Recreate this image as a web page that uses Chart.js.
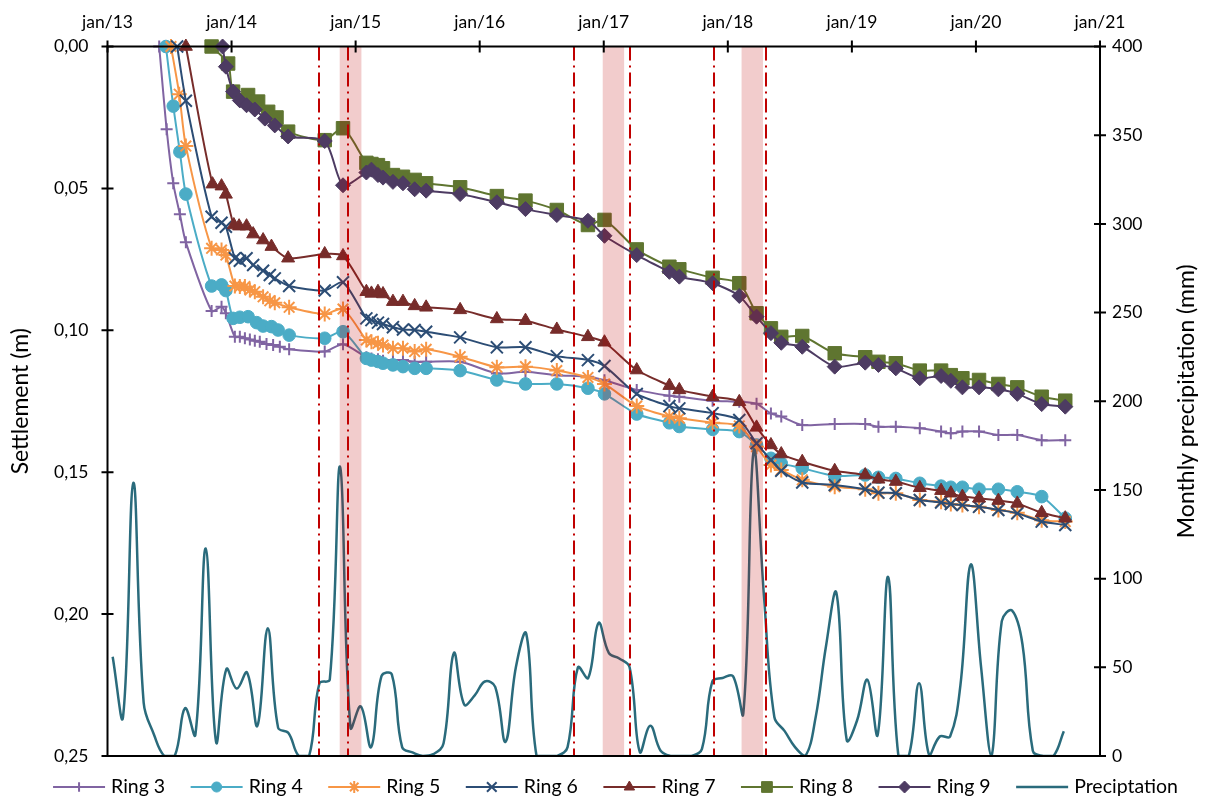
<!DOCTYPE html>
<html><head><meta charset="utf-8">
<script src="https://cdn.jsdelivr.net/npm/chart.js@4.4.1/dist/chart.umd.min.js"></script>
<style>html,body{margin:0;padding:0;background:#fff;}canvas{display:block;}</style>
</head><body>
<canvas id="c" width="1209" height="798"></canvas>
<script>
// ---- DATA (x = months since Jan 2013, y = settlement in m) ----
const yearTickLabels = ['jan/13','jan/14','jan/15','jan/16','jan/17','jan/18','jan/19','jan/20','jan/21'];
const laterSurveyMonths = [21.01,22.78,25.04,25.53,26.16,26.65,27.61,28.58,29.71,30.82,34.11,37.66,40.43,43.46,46.47,48.07,51.19,54.35,55.31,58.53,61.11,62.78,64.17,65.17,67.20,70.34,73.29,74.57,76.25,78.57,80.63,81.57,82.69,84.30,86.17,88.00,90.36,92.64];

const ring3Early = [5.00,5.72,6.36,7.00,7.58,10.07,11.03,11.45,12.32,12.80,13.29,13.77,14.25,14.73,15.38,16.02,16.67,17.57];
const ring3Settlement = [0,0.0292,0.0482,0.0591,0.0690,0.0932,0.0917,0.0940,0.1023,0.1023,0.1028,0.1032,0.1037,0.1040,0.1048,0.1052,0.1058,0.1067,
  0.1075,0.1049,0.1095,0.1099,0.1102,0.1107,0.1105,0.1105,0.1111,0.1111,0.1111,0.1152,0.1146,0.1158,0.1164,0.1176,0.1210,0.1231,0.1234,0.1248,0.1252,0.1259,0.1293,0.1304,0.1334,0.1330,0.1330,0.1340,0.1340,0.1345,0.1357,0.1363,0.1357,0.1357,0.1369,0.1369,0.1387,0.1387];

const ring4Early = [5.65,6.36,7.00,7.58,10.07,11.03,11.45,12.15,12.80,13.60,14.42,15.05,15.86,16.50,17.57];
const ring4Settlement = [0,0.0210,0.0371,0.0520,0.0844,0.0840,0.0860,0.0958,0.0954,0.0952,0.0973,0.0985,0.0987,0.0999,0.1017,
  0.1028,0.1005,0.1099,0.1105,0.1110,0.1116,0.1122,0.1128,0.1134,0.1134,0.1142,0.1175,0.1189,0.1189,0.1204,0.1224,0.1295,0.1326,0.1339,0.1349,0.1357,0.1404,0.1451,0.1469,0.1486,0.1513,0.1510,0.1518,0.1522,0.1539,0.1549,0.1553,0.1553,0.1560,0.1560,0.1569,0.1586,0.1662];

const ring5Early = [6.14,6.94,7.58,10.07,11.03,11.45,12.32,12.80,13.29,13.77,14.25,15.05,15.70,16.18,17.57];
const ring5Settlement = [0,0.0168,0.0351,0.0711,0.0717,0.0735,0.0844,0.0846,0.0846,0.0858,0.0864,0.0882,0.0896,0.0903,0.0919,
  0.0943,0.0925,0.1034,0.1040,0.1046,0.1052,0.1063,0.1063,0.1075,0.1067,0.1093,0.1130,0.1128,0.1142,0.1166,0.1189,0.1267,0.1304,0.1310,0.1326,0.1337,0.1410,0.1475,0.1492,0.1527,0.1551,0.1560,0.1574,0.1574,0.1598,0.1604,0.1612,0.1616,0.1622,0.1633,0.1643,0.1669,0.1674];

const ring6Early = [6.74,7.58,10.07,11.03,11.45,12.32,12.80,13.45,14.09,15.05,15.70,16.18,17.57];
const ring6Settlement = [0,0.0191,0.0600,0.0621,0.0635,0.0746,0.0755,0.0746,0.0770,0.0790,0.0805,0.0817,0.0844,
  0.0860,0.0831,0.0958,0.0964,0.0973,0.0978,0.0989,0.0997,0.0999,0.1005,0.1025,0.1060,0.1060,0.1091,0.1105,0.1126,0.1224,0.1267,0.1275,0.1292,0.1316,0.1398,0.1457,0.1495,0.1536,0.1545,0.1560,0.1572,0.1574,0.1598,0.1607,0.1612,0.1616,0.1622,0.1633,0.1645,0.1674,0.1686];

const ring7Early = [7.58,10.16,11.03,11.45,12.22,12.73,13.45,14.09,15.05,15.86,17.47];
const ring7Settlement = [0,0.0485,0.0492,0.0521,0.0629,0.0633,0.0633,0.0661,0.0682,0.0705,0.0746,
  0.0731,0.0738,0.0864,0.0870,0.0864,0.0872,0.0899,0.0899,0.0914,0.0919,0.0928,0.0960,0.0966,0.0997,0.1023,0.1042,0.1140,0.1195,0.1210,0.1234,0.1252,0.1342,0.1404,0.1436,0.1463,0.1495,0.1510,0.1525,0.1533,0.1555,0.1565,0.1574,0.1586,0.1592,0.1600,0.1610,0.1643,0.1662];

const ring8Early = [10.07,11.67,12.15,13.60,14.57,15.54,16.35,17.47];
const ring8Settlement = [0,0.0060,0.0159,0.0171,0.0194,0.0230,0.0250,0.0300,
  0.0330,0.0288,0.0410,0.0414,0.0418,0.0429,0.0453,0.0459,0.0470,0.0482,0.0496,0.0527,0.0543,0.0576,0.0629,0.0611,0.0715,0.0776,0.0785,0.0815,0.0834,0.0940,0.0993,0.1023,0.1020,0.1081,0.1095,0.1111,0.1116,0.1142,0.1142,0.1158,0.1169,0.1175,0.1189,0.1201,0.1234,0.1248];

const ring9Early = [11.13,11.45,12.15,12.80,13.45,14.25,15.22,16.18,17.47];
const ring9Settlement = [0,0.0071,0.0159,0.0190,0.0207,0.0222,0.0254,0.0278,0.0317,
  0.0333,0.0489,0.0444,0.0434,0.0453,0.0462,0.0477,0.0482,0.0503,0.0508,0.0520,0.0549,0.0573,0.0594,0.0614,0.0667,0.0735,0.0794,0.0811,0.0834,0.0879,0.0952,0.1010,0.1044,0.1058,0.1128,0.1114,0.1122,0.1134,0.1169,0.1161,0.1178,0.1201,0.1201,0.1208,0.1224,0.1260,0.1269];

// monthly precipitation (mm), one value per month from Jan 2013
const precipitation = [56,22,154,30,12,0,0,27,12,117,8,49,
  38,47,17,72,16,13,0,0,41,43,163,16,
  28,5,45,46,5,2,0,1,7,58,29,34,
  42,39,8,50,69,0,0,0,5,50,44,75,
  58,55,50,2,17,3,0,0,0,4,42,44,
  45,24,172,90,22,14,5,0,22,62,92,9,
  20,43,12,101,0,0,41,0,11,11,40,108,
  50,0,76,82,63,3,0,0,14];

// event markers (months since Jan 2013)
const eventLines = [20.48,23.24,45.12,50.53,58.65,63.72];
const eventBandStart = [22.46,47.90,61.33];
const eventBandEnd = [24.56,49.97,63.40];

// ---- CHART ----
const FONT = 'Lato, "Open Sans", "DejaVu Sans", sans-serif';
function pts(xs, ys){ return xs.map((x,i)=>({x:x, y:ys[i]})); }
function ring(label, early, ys, color, style, r, bw, order){
  return {label, data: pts(early.concat(laterSurveyMonths), ys), yAxisID:'y',
    borderColor: color, backgroundColor: color, borderWidth: 2,
    pointStyle: style, pointRadius: r, pointHoverRadius: r, pointBorderWidth: bw,
    pointBackgroundColor: color, pointBorderColor: color,
    tension: 0.25, clip: false, order};
}
const datasets = [
  ring('Ring 3', ring3Early, ring3Settlement, '#8064A2', 'cross', 6, 2, 10),
  ring('Ring 4', ring4Early, ring4Settlement, '#4BACC6', 'circle', 6.3, 1, 9),
  ring('Ring 5', ring5Early, ring5Settlement, '#F79646', 'star', 7.5, 2, 8),
  ring('Ring 6', ring6Early, ring6Settlement, '#2C4D75', 'crossRot', 8.5, 2, 7),
  ring('Ring 7', ring7Early, ring7Settlement, '#772C2A', 'triangle', 7.5, 1, 6),
  ring('Ring 8', ring8Early, ring8Settlement, '#5F7530', 'rect', 9.5, 1, 5),
  ring('Ring 9', ring9Early, ring9Settlement, '#4D3B62', 'rectRot', 7.5, 1, 4),
  {label:'Preciptation', data: precipitation.map((v,i)=>({x:i+0.5, y:v})), yAxisID:'y2',
    borderColor:'#2A6B7C', backgroundColor:'#2A6B7C', borderWidth:2.5, pointRadius:0, pointHoverRadius:0,
    tension:0.4, order: 3}
];

function drawMarker(ctx, ds, x, y, r){
  ctx.save();
  ctx.fillStyle = ds.backgroundColor; ctx.strokeStyle = ds.borderColor;
  ctx.lineWidth = ds.pointBorderWidth || 1;
  if (Chart.helpers && Chart.helpers.drawPoint) {
    Chart.helpers.drawPoint(ctx, {pointStyle: ds.pointStyle, radius: r, borderWidth: ds.pointBorderWidth, rotation: 0}, x, y);
  }
  ctx.restore();
}

const decor = {
  id: 'decor',
  afterDatasetsDraw(chart){
    const {ctx, chartArea:a, scales} = chart;
    const x = scales.x, y = scales.y, y2 = scales.y2;
    ctx.save();
    ctx.fillStyle = 'rgba(192,0,0,0.2)';
    eventBandStart.forEach((s,i)=>{
      const x0 = x.getPixelForValue(s), x1 = x.getPixelForValue(eventBandEnd[i]);
      ctx.fillRect(x0, a.top, x1-x0, a.bottom-a.top);
    });
    ctx.strokeStyle = '#C00000'; ctx.lineWidth = 2; ctx.setLineDash([14,5,2,5]);
    eventLines.forEach(m=>{
      const p = Math.round(x.getPixelForValue(m));
      ctx.beginPath(); ctx.moveTo(p, a.top); ctx.lineTo(p, a.bottom); ctx.stroke();
    });
    ctx.setLineDash([]);
    ctx.strokeStyle = '#000'; ctx.lineWidth = 2;
    ctx.strokeRect(a.left, a.top, a.right-a.left, a.bottom-a.top);
    ctx.beginPath();
    x.ticks.forEach(t=>{ const p = x.getPixelForValue(t.value); ctx.moveTo(p, a.top-6); ctx.lineTo(p, a.top+6); });
    y.ticks.forEach(t=>{ const p = y.getPixelForValue(t.value); ctx.moveTo(a.left-6, p); ctx.lineTo(a.left+6, p); });
    y2.ticks.forEach(t=>{ const p = y2.getPixelForValue(t.value); ctx.moveTo(a.right-6, p); ctx.lineTo(a.right+6, p); });
    ctx.stroke();
    ctx.restore();
  },
  afterDraw(chart){
    const {ctx, chartArea:a} = chart;
    const cy = (a.top + a.bottom)/2;
    ctx.save();
    ctx.fillStyle = '#000';
    ctx.font = '23px ' + FONT;
    ctx.textAlign = 'center'; ctx.textBaseline = 'middle';
    ctx.save(); ctx.translate(21, cy); ctx.rotate(-Math.PI/2); ctx.fillText('Settlement (m)', 0, 0); ctx.restore();
    ctx.save(); ctx.translate(1187, cy); ctx.rotate(-Math.PI/2); ctx.fillText('Monthly precipitation (mm)', 0, 0); ctx.restore();
    // legend
    ctx.font = '19.5px ' + FONT;
    const dss = chart.data.datasets;
    const lineLen = 52, gapText = 6, gapItem = 25.5;
    const widths = dss.map(d => lineLen + gapText + ctx.measureText(d.label).width);
    const total = widths.reduce((s,w)=>s+w,0) + gapItem*(dss.length-1);
    let lx = 615.5 - total/2; const ly = 787;
    dss.forEach((d,i)=>{
      ctx.strokeStyle = d.borderColor; ctx.lineWidth = d.borderWidth;
      ctx.beginPath(); ctx.moveTo(lx, ly); ctx.lineTo(lx+lineLen, ly); ctx.stroke();
      if (d.pointRadius > 0) drawMarker(ctx, d, lx+lineLen/2, ly, d.pointRadius*0.8);
      ctx.fillStyle = '#000'; ctx.textAlign = 'left'; ctx.textBaseline = 'middle';
      ctx.fillText(d.label, lx+lineLen+gapText, ly);
      lx += widths[i] + gapItem;
    });
    ctx.restore();
  }
};

const tickFont = {family: FONT, size: 17.5};
new Chart(document.getElementById('c'), {
  type: 'line',
  data: {datasets},
  plugins: [decor],
  options: {
    responsive: false, animation: false, devicePixelRatio: 1,
    layout: {padding: {top:0, left:0, right:0, bottom:42}},
    plugins: {legend: {display:false}, tooltip: {enabled:false}},
    scales: {
      x: {type:'linear', position:'top', min:0, max:96,
        afterBuildTicks: s => { s.ticks = yearTickLabels.map((_,i)=>({value:i*12})); },
        ticks: {callback: v => yearTickLabels[Math.round(v/12)], font: tickFont, color:'#000', padding: 14, maxRotation:0, autoSkip:false},
        grid: {display:false, drawTicks:false}, border: {display:false},
        afterFit: s => { s.height = 46.5; }},
      y: {type:'linear', position:'left', reverse:true, min:0, max:0.25,
        ticks: {stepSize:0.05, callback: v => v.toFixed(2).replace('.', ','), font: tickFont, color:'#000', padding: 19},
        grid: {display:false, drawTicks:false}, border: {display:false},
        afterFit: s => { s.width = 107.5; }},
      y2: {type:'linear', position:'right', min:0, max:400,
        ticks: {stepSize:50, font: tickFont, color:'#000', padding: 12},
        grid: {display:false, drawTicks:false}, border: {display:false},
        afterFit: s => { s.width = 109; }}
    }
  }
});
</script>
</body></html>
